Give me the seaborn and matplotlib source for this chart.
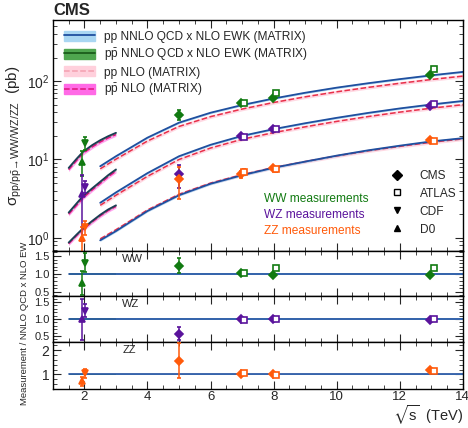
import numpy as np
import pandas as pd
import matplotlib
matplotlib.use("Agg")
import matplotlib.pyplot as plt
import seaborn as sns
from matplotlib.patches import Patch
from matplotlib.lines import Line2D
from matplotlib.ticker import MultipleLocator, LogLocator, NullFormatter

# ---------------- theory curves ----------------
sqrts_pp = [2.5, 3, 4, 5, 6, 7, 8, 9, 10, 11, 12, 13, 14]
ww_nnlo_pp = [8.2, 11.0, 19.0, 29.5, 39.5, 49.5, 60.0, 71.0, 82.5, 94.0, 106.0, 118.5, 131.0]
ww_nlo_pp = [7.6, 10.1, 17.2, 26.4, 35.2, 44.0, 53.3, 63.0, 73.0, 83.2, 93.8, 104.8, 115.8]
wz_nnlo_pp = [2.8, 3.8, 6.7, 11.0, 15.4, 20.0, 24.4, 29.0, 34.0, 39.3, 44.8, 50.3, 55.8]
wz_nlo_pp = [2.6, 3.5, 6.1, 10.0, 14.0, 18.1, 22.0, 26.1, 30.6, 35.3, 40.2, 45.1, 50.0]
zz_nnlo_pp = [0.93, 1.22, 2.2, 3.5, 4.9, 6.3, 7.85, 9.4, 11.2, 13.1, 15.0, 17.0, 18.7]
zz_nlo_pp = [0.97, 1.27, 2.27, 3.6, 5.0, 6.4, 7.9, 9.4, 11.1, 12.9, 14.7, 16.6, 18.3]

sqrts_ppbar = [1.5, 1.75, 1.96, 2.25, 2.5, 2.75, 3.0]
ww_nnlo_ppbar = [7.8, 10.2, 12.6, 15.3, 17.6, 19.8, 21.9]
ww_nlo_ppbar = [7.4, 9.7, 12.0, 14.5, 16.7, 18.8, 20.8]
wz_nnlo_ppbar = [2.1, 2.75, 3.43, 4.3, 5.2, 6.3, 7.46]
wz_nlo_ppbar = [2.0, 2.6, 3.25, 4.1, 4.95, 6.0, 7.1]
zz_nnlo_ppbar = [0.87, 1.1, 1.33, 1.65, 1.97, 2.3, 2.6]
zz_nlo_ppbar = [0.84, 1.07, 1.29, 1.6, 1.91, 2.23, 2.52]

band_nnlo = 0.03
band_nlo = 0.05

# ---------------- measurements ----------------
ww_meas = pd.DataFrame({
    "exp": ["D0", "CDF", "CMS", "CMS", "ATLAS", "CMS", "ATLAS", "CMS", "ATLAS"],
    "sqrts": [1.93, 2.03, 5.0, 6.97, 7.07, 7.97, 8.07, 12.97, 13.07],
    "sigma": [9.4, 16.4, 37.4, 53.0, 52.0, 61.4, 71.0, 118.0, 142.0],
    "err": [3.3, 3.0, 5.3, 2.5, 3.0, 3.0, 4.0, 6.0, 7.0],
    "ratio": [0.75, 1.31, 1.23, 1.02, 1.02, 0.98, 1.16, 0.96, 1.17],
    "rerr": [0.33, 0.27, 0.2, 0.05, 0.06, 0.05, 0.06, 0.05, 0.06],
})
wz_meas = pd.DataFrame({
    "exp": ["D0", "CDF", "CMS", "CMS", "ATLAS", "CMS", "ATLAS", "CMS", "ATLAS"],
    "sqrts": [1.93, 2.03, 5.0, 6.97, 7.07, 7.97, 8.07, 12.97, 13.07],
    "sigma": [3.6, 4.5, 6.45, 20.0, 19.3, 24.4, 24.4, 48.2, 51.0],
    "err": [2.7, 0.8, 2.1, 1.2, 1.3, 1.1, 1.0, 2.0, 2.2],
    "ratio": [0.99, 1.25, 0.57, 1.0, 0.97, 1.0, 1.0, 0.96, 1.0],
    "rerr": [0.6, 0.2, 0.19, 0.05, 0.06, 0.05, 0.05, 0.04, 0.05],
})
zz_meas = pd.DataFrame({
    "exp": ["D0", "CDF", "CMS", "CMS", "ATLAS", "CMS", "ATLAS", "CMS", "ATLAS"],
    "sqrts": [1.93, 2.03, 5.0, 6.97, 7.07, 7.97, 8.07, 12.97, 13.07],
    "sigma": [1.0, 1.38, 5.57, 6.45, 6.9, 7.8, 7.45, 17.6, 17.4],
    "err": [0.36, 0.28, 2.4, 0.6, 0.6, 0.5, 0.5, 0.9, 0.9],
    "ratio": [0.71, 1.04, 1.57, 1.0, 1.06, 1.03, 0.98, 1.2, 1.15],
    "rerr": [0.2, 0.17, 0.7, 0.08, 0.08, 0.06, 0.06, 0.06, 0.06],
})

markers = {"CMS": "D", "ATLAS": "s", "CDF": "v", "D0": "^"}
col_ww = "#117a11"
col_wz = "#5a139c"
col_zz = "#ff5a0a"
col_pp = "#1f4f9f"
col_pp_band = "#a9d6f2"
col_ppbar = "#1b3d55"
col_ppbar_band = "#4fa64f"
col_nlo = "#e8304a"
col_nlo_band = "#ffd0dc"
col_nlo_ppbar = "#e0147a"
col_nlo_ppbar_band = "#ff6ae6"

sns.set_theme(style="ticks")
plt.rcParams["font.family"] = ["Liberation Sans", "DejaVu Sans"]
plt.rcParams["mathtext.fontset"] = "custom"
plt.rcParams["mathtext.rm"] = "Liberation Sans"
plt.rcParams["mathtext.it"] = "Liberation Sans"
plt.rcParams["mathtext.fallback"] = "stixsans"

fig = plt.figure(figsize=(4.68, 4.28), dpi=100)
left, width = 0.113, 0.876
ax = fig.add_axes([left, 0.4136, width, 0.5394])
ax_ww = fig.add_axes([left, 0.3084, width, 0.1052])
ax_wz = fig.add_axes([left, 0.2009, width, 0.1075])
ax_zz = fig.add_axes([left, 0.0911, width, 0.1098])


def theory(a, x, nnlo, nlo, ppbar):
    x = np.array(x)
    nnlo = np.array(nnlo)
    nlo = np.array(nlo)
    if ppbar:
        a.fill_between(x, nlo * (1 - band_nlo), nlo * (1 + band_nlo), color=col_nlo_ppbar_band, alpha=0.6, lw=0)
        a.fill_between(x, nnlo * (1 - band_nnlo), nnlo * (1 + band_nnlo), color=col_ppbar_band, alpha=0.6, lw=0)
        sns.lineplot(x=x, y=nlo, ax=a, color=col_nlo_ppbar, lw=1.1, linestyle="--")
        sns.lineplot(x=x, y=nnlo, ax=a, color=col_ppbar, lw=1.3)
    else:
        a.fill_between(x, nlo * (1 - band_nlo), nlo * (1 + band_nlo), color=col_nlo_band, alpha=0.8, lw=0)
        a.fill_between(x, nnlo * (1 - band_nnlo), nnlo * (1 + band_nnlo), color=col_pp_band, alpha=0.8, lw=0)
        sns.lineplot(x=x, y=nlo, ax=a, color=col_nlo, lw=1.1, linestyle="--")
        sns.lineplot(x=x, y=nnlo, ax=a, color=col_pp, lw=1.3)


for nnlo, nlo in [(ww_nnlo_pp, ww_nlo_pp), (wz_nnlo_pp, wz_nlo_pp), (zz_nnlo_pp, zz_nlo_pp)]:
    theory(ax, sqrts_pp, nnlo, nlo, False)
for nnlo, nlo in [(ww_nnlo_ppbar, ww_nlo_ppbar), (wz_nnlo_ppbar, wz_nlo_ppbar), (zz_nnlo_ppbar, zz_nlo_ppbar)]:
    theory(ax, sqrts_ppbar, nnlo, nlo, True)


def points(a, df, col, ycol, ecol):
    for _, r in df.iterrows():
        face = "white" if r["exp"] == "ATLAS" else col
        ms = 4.5 if r["exp"] in ("CMS", "ATLAS") else 5
        a.errorbar(r["sqrts"], r[ycol], yerr=r[ecol], fmt=markers[r["exp"]], color=col,
                   mfc=face, mec=col, ms=ms, mew=1.2, elinewidth=1.1, capsize=1.5, zorder=5)


points(ax, ww_meas, col_ww, "sigma", "err")
points(ax, wz_meas, col_wz, "sigma", "err")
points(ax, zz_meas, col_zz, "sigma", "err")

ax.set_yscale("log")
ax.set_ylim(0.68, 600)
ax.set_xlim(1, 14)
ax.set_ylabel("σ$_{\\mathrm{pp/p\\bar{p}}}$$_{\u2192\\mathrm{WW/WZ/ZZ}}$  (pb)", fontsize=11, labelpad=2)
ax.yaxis.set_major_locator(LogLocator(base=10, numticks=10))
ax.yaxis.set_minor_locator(LogLocator(base=10, subs=np.arange(2, 10), numticks=10))
ax.yaxis.set_minor_formatter(NullFormatter())
ax.set_xticklabels([])
ax.text(0.0, 1.008, "CMS", transform=ax.transAxes, fontsize=12, fontweight="bold", ha="left", va="bottom")

# legends
h_theory = [
    (Patch(color=col_pp_band), Line2D([], [], color=col_pp, lw=1.3)),
    (Patch(color=col_ppbar_band), Line2D([], [], color="#1c5c1c", lw=1.3)),
    (Patch(color=col_nlo_band), Line2D([], [], color="#f4a0b0", lw=1.1, ls="--")),
    (Patch(color=col_nlo_ppbar_band), Line2D([], [], color=col_nlo_ppbar, lw=1.1, ls="--")),
]
l_theory = [
    "pp NNLO QCD x NLO EWK (MATRIX)",
    r"p$\bar{\mathrm{p}}$ NNLO QCD x NLO EWK (MATRIX)",
    "pp NLO (MATRIX)",
    r"p$\bar{\mathrm{p}}$ NLO (MATRIX)",
]
leg1 = ax.legend(h_theory, l_theory, loc="upper left", frameon=False, fontsize=8.6,
                 handlelength=2.6, handleheight=0.9, labelspacing=0.3, borderaxespad=0.5)
ax.add_artist(leg1)

h_exp = [Line2D([], [], color="black", marker=markers[e], ls="none", ms=5,
                mfc="white" if e == "ATLAS" else "black") for e in ["CMS", "ATLAS", "CDF", "D0"]]
ax.legend(h_exp, ["CMS", "ATLAS", "CDF", "D0"], loc="lower right", frameon=False, fontsize=8.6,
          bbox_to_anchor=(1.01, 0.02), handletextpad=0.9, labelspacing=0.5)

for i, (txt, c) in enumerate([("WW measurements", col_ww), ("WZ measurements", col_wz),
                              ("ZZ measurements", col_zz)]):
    ax.text(0.515, 0.225 - i * 0.07, txt, transform=ax.transAxes, color=c, fontsize=8.6, va="center")

# ratio panels
for a, df, col, name, ylim in [(ax_ww, ww_meas, col_ww, "WW", (0.38, 1.64)),
                               (ax_wz, wz_meas, col_wz, "WZ", (0.32, 1.68)),
                               (ax_zz, zz_meas, col_zz, "ZZ", (0.4, 2.33))]:
    a.fill_between([1.5, 14], [1 - band_nnlo] * 2, [1 + band_nnlo] * 2, color=col_pp_band, lw=0)
    a.fill_between([1.5, 3.0], [1 - band_nnlo] * 2, [1 + band_nnlo] * 2, color=col_ppbar_band, alpha=0.6, lw=0)
    sns.lineplot(x=[1.5, 14], y=[1, 1], ax=a, color=col_pp, lw=1.2)
    points(a, df, col, "ratio", "rerr")
    a.set_xlim(1, 14)
    a.set_ylim(*ylim)
    a.text(3.2, ylim[1] - 0.06 * (ylim[1] - ylim[0]), name, fontsize=8, va="top")
    if name == "ZZ":
        a.yaxis.set_major_locator(MultipleLocator(1))
        a.yaxis.set_minor_locator(MultipleLocator(0.2))
    else:
        a.set_yticks([0.5, 1.0, 1.5])
        a.set_yticklabels(["0.5", "1.0", "1.5"])
        a.yaxis.set_minor_locator(MultipleLocator(0.1))
    if name != "ZZ":
        a.set_xticklabels([])

for a in [ax, ax_ww, ax_wz, ax_zz]:
    a.xaxis.set_major_locator(MultipleLocator(2))
    a.xaxis.set_minor_locator(MultipleLocator(0.5))
    a.tick_params(which="both", direction="in", top=True, right=True, labelsize=10, pad=2.5)
    a.tick_params(which="major", length=6, width=0.8)
    a.tick_params(which="minor", length=3, width=0.6)
    for s in a.spines.values():
        s.set_linewidth(1.0)
        s.set_color("black")
    a.set_xlabel("")
for a in [ax_ww, ax_wz]:
    a.tick_params(axis="y", labelsize=8)
ax_zz.tick_params(axis="x", pad=1.5, labelsize=9.5)

fig.text(0.052, 0.245, "Measurement / NNLO QCD x NLO EW", rotation=90, fontsize=6.8, ha="center", va="center")
fig.text(0.989, 0.002, r"$\sqrt{s}$  (TeV)", fontsize=10.5, ha="right", va="bottom")

fig.savefig("out.png", dpi=100)
